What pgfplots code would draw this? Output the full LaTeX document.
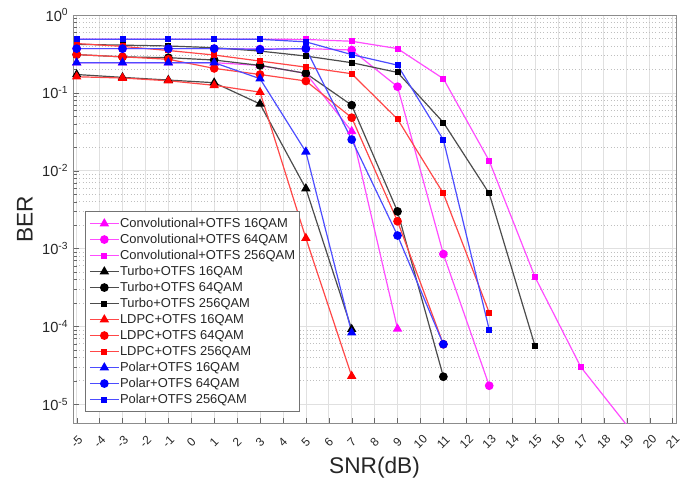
\documentclass[border=0pt]{standalone}
\usepackage{pgfplots}
\pgfplotsset{compat=1.18}
\usepackage{fontspec}
\setmainfont{Liberation Sans}

\definecolor{txt}{RGB}{38,38,38}
\definecolor{mag}{RGB}{255,0,255}
\definecolor{rd}{RGB}{255,0,0}
\definecolor{bl}{RGB}{0,0,255}

\pgfplotsset{
  cv/.style={color=mag!70!white, line width=0.9pt, mark options={solid, draw=mag, fill=mag}},
  tb/.style={color=black!70!white, line width=0.9pt, mark options={solid, draw=black, fill=black}},
  ld/.style={color=rd!72!white, line width=0.9pt, mark options={solid, draw=rd, fill=rd}},
  pl/.style={color=bl!70!white, line width=0.9pt, mark options={solid, draw=bl, fill=bl}},
  q16/.style={mark=triangle*, mark size=3.2pt},
  q64/.style={mark=*, mark size=2.8pt},
  q256/.style={mark=square*, mark size=1.8pt},
}

\begin{document}
\begin{tikzpicture}
\begin{axis}[
    name=ax,
    scale only axis,
    width=452.25pt, height=306.2pt,
    ymode=log,
    xmin=-5.16, xmax=21.15,
    ymin=5.7e-6, ymax=1,
    xtick={-5,...,21},
    ytick={1e-5,1e-4,1e-3,1e-2,1e-1,1},
    yticklabels={10\textsuperscript{-5},10\textsuperscript{-4},10\textsuperscript{-3},10\textsuperscript{-2},10\textsuperscript{-1},10\textsuperscript{0}},
    /pgf/number format/assume math mode=true,
    tick pos=left,
    tick align=inside,
    axis line style={black!45},
    tick style={black!60},
    grid=both,
    major grid style={black!12, line width=0.5pt},
    minor grid style={black!25, dotted, line width=0.5pt},
    xticklabel style={font=\fontsize{9}{10}\selectfont, color=txt, rotate=45, anchor=center, inner sep=0pt},
    xticklabel shift=14pt,
    yticklabel style={font=\fontsize{11}{12}\selectfont, color=txt},
    xlabel={SNR(dB)},
    ylabel={BER},
    every axis x label/.style={at={(axis description cs:0.5,-0.108)}, anchor=center, font=\fontsize{17}{20}\selectfont, color=txt},
    every axis y label/.style={at={(axis description cs:-0.08,0.5)}, anchor=center, rotate=90, font=\fontsize{17}{20}\selectfont, color=txt},
    legend cell align=left,
    legend image code/.code={\draw[mark repeat=2,mark phase=2] plot coordinates {(0cm,0cm) (0.38cm,0cm) (0.76cm,0cm)};},
    legend style={at={(0.02,0.028)}, anchor=south west, draw=black!55, fill=white,
      font=\fontsize{9.7}{11}\selectfont, text=txt,
      nodes={inner sep=0.5pt, text height=8.5pt, text depth=2.5pt},
      inner xsep=3pt, inner ysep=3pt},
]
\addplot[cv,q16] coordinates {(-5,0.244)(-3,0.244)(-1,0.244)(1,0.244)(3,0.225)(5,0.178)(7,0.032)(9,9.3e-5)};
\addlegendentry{Convolutional+OTFS 16QAM}
\addplot[cv,q64] coordinates {(-5,0.37)(-3,0.37)(-1,0.37)(1,0.37)(3,0.365)(5,0.37)(7,0.355)(9,0.12)(11,8.5e-4)(13,1.73e-5)};
\addlegendentry{Convolutional+OTFS 64QAM}
\addplot[cv,q256] coordinates {(-5,0.49)(-3,0.49)(-1,0.49)(1,0.49)(3,0.49)(5,0.485)(7,0.46)(9,0.37)(11,0.152)(13,0.0134)(15,4.3e-4)(17,3.0e-5)(19,5.4e-6)};
\addlegendentry{Convolutional+OTFS 256QAM}
\addplot[tb,q16] coordinates {(-5,0.172)(-3,0.158)(-1,0.146)(1,0.135)(3,0.072)(5,5.9e-3)(7,9.2e-5)};
\addlegendentry{Turbo+OTFS 16QAM}
\addplot[tb,q64] coordinates {(-5,0.31)(-3,0.29)(-1,0.283)(1,0.264)(3,0.225)(5,0.178)(7,0.0695)(9,3.0e-3)(11,2.26e-5)};
\addlegendentry{Turbo+OTFS 64QAM}
\addplot[tb,q256] coordinates {(-5,0.42)(-3,0.41)(-1,0.40)(1,0.38)(3,0.344)(5,0.297)(7,0.244)(9,0.183)(11,0.0416)(13,5.1e-3)(15,5.6e-5)};
\addlegendentry{Turbo+OTFS 256QAM}
\addplot[ld,q16] coordinates {(-5,0.161)(-3,0.155)(-1,0.143)(1,0.125)(3,0.102)(5,1.36e-3)(7,2.3e-5)};
\addlegendentry{LDPC+OTFS 16QAM}
\addplot[ld,q64] coordinates {(-5,0.31)(-3,0.29)(-1,0.27)(1,0.206)(3,0.172)(5,0.142)(7,0.048)(9,2.24e-3)(11,5.9e-5)};
\addlegendentry{LDPC+OTFS 64QAM}
\addplot[ld,q256] coordinates {(-5,0.43)(-3,0.395)(-1,0.35)(1,0.306)(3,0.256)(5,0.214)(7,0.176)(9,0.046)(11,5.1e-3)(13,1.5e-4)};
\addlegendentry{LDPC+OTFS 256QAM}
\addplot[pl,q16] coordinates {(-5,0.244)(-3,0.244)(-1,0.244)(1,0.244)(3,0.152)(5,0.0175)(7,8.3e-5)};
\addlegendentry{Polar+OTFS 16QAM}
\addplot[pl,q64] coordinates {(-5,0.37)(-3,0.37)(-1,0.37)(1,0.37)(3,0.362)(5,0.37)(7,0.0251)(9,1.47e-3)(11,5.9e-5)};
\addlegendentry{Polar+OTFS 64QAM}
\addplot[pl,q256] coordinates {(-5,0.487)(-3,0.487)(-1,0.487)(1,0.487)(3,0.487)(5,0.452)(7,0.31)(9,0.227)(11,0.0249)(13,9.1e-5)};
\addlegendentry{Polar+OTFS 256QAM}
\end{axis}
\pgfresetboundingbox
\path ([shift={(-54.75pt,-45.5pt)}]ax.south west) rectangle ([shift={(3pt,11.25pt)}]ax.north east);
\end{tikzpicture}
\end{document}
